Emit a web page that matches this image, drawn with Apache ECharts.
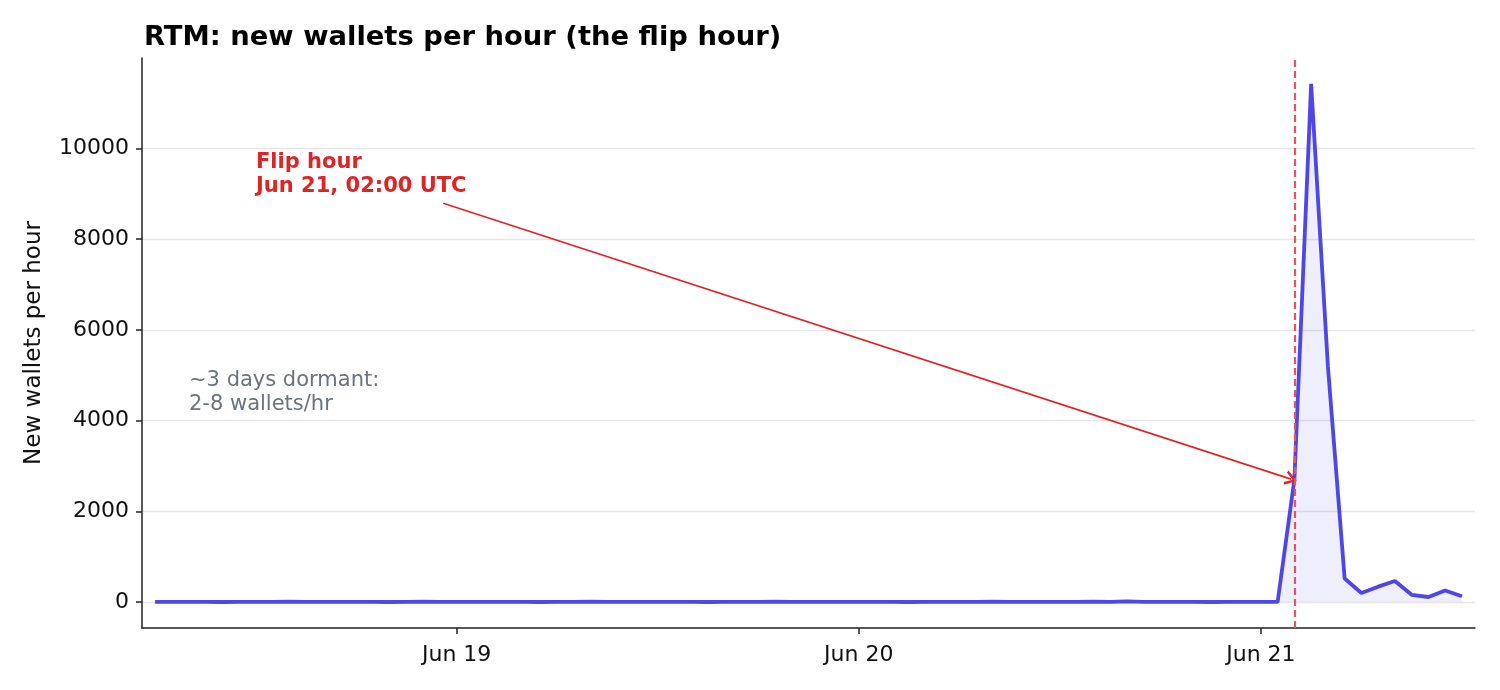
<!DOCTYPE html>
<html>
<head>
<meta charset="utf-8">
<title>RTM new wallets per hour</title>
<script src="https://cdn.jsdelivr.net/npm/echarts@6/dist/echarts.min.js"></script>
<style>
  html, body { margin: 0; padding: 0; background: #fff; }
  #chart { width: 1500px; height: 690px; }
</style>
</head>
<body>
<div id="chart"></div>
<script>
// hours counted from Jun 18 00:00 UTC, first sample at Jun 18 06:00
var startHour = 6
var wallets = [
    // Jun 18 06:00 - 23:00
    5, 3, 4, 6, 2, 4, 5, 3, 7, 4, 3, 5, 6, 4, 2, 5, 8, 4,
    // Jun 19
    3, 5, 4, 6, 3, 2, 5, 4, 7, 3, 4, 6, 5, 3, 4, 2, 6, 5, 3, 8, 4, 5, 3, 6,
    // Jun 20
    4, 3, 5, 2, 6, 4, 3, 5, 7, 4, 3, 6, 5, 4, 8, 6, 18, 5, 3, 4, 6, 2, 5, 4,
    // Jun 21 00:00 - 12:00
    3, 4, 2700, 11420, 5200, 520, 200, 340, 465, 160, 112, 256, 128
]
var dayTicks = [24, 48, 72]
var dayLabels = ['Jun 19', 'Jun 20', 'Jun 21']
var yTicks = [0, 2000, 4000, 6000, 8000, 10000]
var flipHour = 74          // Jun 21 02:00
var arrowFrom = [23.2, 8790]
var arrowTo = [73.8, 2710]

var font = 'DejaVu Sans'
var chart = echarts.init(document.getElementById('chart'))

var seriesData = wallets.map(function (v, i) {
    return [startHour + i, v]
})

// open "->" style head
var arrowHead = 'path://M0,12 L6,0 L12,12 L10,13 L6,4.6 L2,13 Z'

var option = {
    animation: false,
    textStyle: { fontFamily: font },
    title: {
        text: 'RTM: new wallets per hour (the flip hour)',
        left: 139,
        top: 19,
        textStyle: { fontFamily: font, fontSize: 27.4, fontWeight: 'bold', color: '#000' }
    },
    grid: { left: 142, right: 25, top: 58, bottom: 62 },
    xAxis: {
        type: 'value',
        min: 5.22,
        max: 84.78,
        axisLine: { onZero: false, lineStyle: { color: '#222', width: 1.5 } },
        axisTick: { customValues: dayTicks, length: 6, lineStyle: { color: '#222', width: 1.5 } },
        axisLabel: {
            customValues: dayTicks,
            margin: 16,
            fontSize: 22,
            color: '#111',
            fontFamily: font,
            formatter: function (v) {
                var i = dayTicks.indexOf(Math.round(v))
                return i >= 0 ? dayLabels[i] : ''
            }
        },
        splitLine: { show: false }
    },
    yAxis: {
        type: 'value',
        min: -571,
        max: 11991,
        name: 'New wallets per hour',
        nameLocation: 'middle',
        nameGap: 96,
        nameTextStyle: { fontFamily: font, fontSize: 23, color: '#111' },
        axisLine: { show: true, onZero: false, lineStyle: { color: '#222', width: 1.5 } },
        axisTick: { show: true, customValues: yTicks, length: 6, lineStyle: { color: '#222', width: 1.5 } },
        axisLabel: {
            customValues: yTicks,
            margin: 13,
            fontSize: 22,
            color: '#111',
            fontFamily: font,
            formatter: function (v) { return String(v) }
        },
        splitLine: { show: true, lineStyle: { color: '#e6e6e6', width: 1.3 } }
    },
    series: [
        {
            type: 'line',
            data: seriesData,
            showSymbol: false,
            symbol: 'none',
            lineStyle: { color: '#4F46E5', width: 3.8 },
            itemStyle: { color: '#4F46E5' },
            areaStyle: { color: 'rgba(79, 70, 229, 0.13)' },
            z: 3,
            markLine: {
                silent: true,
                animation: false,
                data: [
                    [
                        { coord: arrowFrom, symbol: 'none' },
                        { coord: arrowTo, symbol: arrowHead, symbolSize: [15, 12] }
                    ]
                ],
                lineStyle: { color: '#dc2626', width: 1.6, type: 'solid' },
                label: { show: false }
            }
        },
        {
            type: 'line',
            data: [],
            markLine: {
                silent: true,
                animation: false,
                symbol: ['none', 'none'],
                data: [{ xAxis: flipHour }],
                lineStyle: { color: '#e25858', width: 2.2, type: [7, 4] },
                label: { show: false }
            }
        }
    ],
    graphic: [
        {
            type: 'text',
            left: 256,
            top: 151,
            style: {
                text: 'Flip hour\nJun 21, 02:00 UTC',
                font: 'bold 21px "DejaVu Sans"',
                fill: '#dc2626',
                lineHeight: 24
            }
        },
        {
            type: 'text',
            left: 189,
            top: 369,
            style: {
                text: '~3 days dormant:\n2-8 wallets/hr',
                font: '21px "DejaVu Sans"',
                fill: '#6b7280',
                lineHeight: 24
            }
        }
    ]
}

chart.setOption(option)
</script>
</body>
</html>
